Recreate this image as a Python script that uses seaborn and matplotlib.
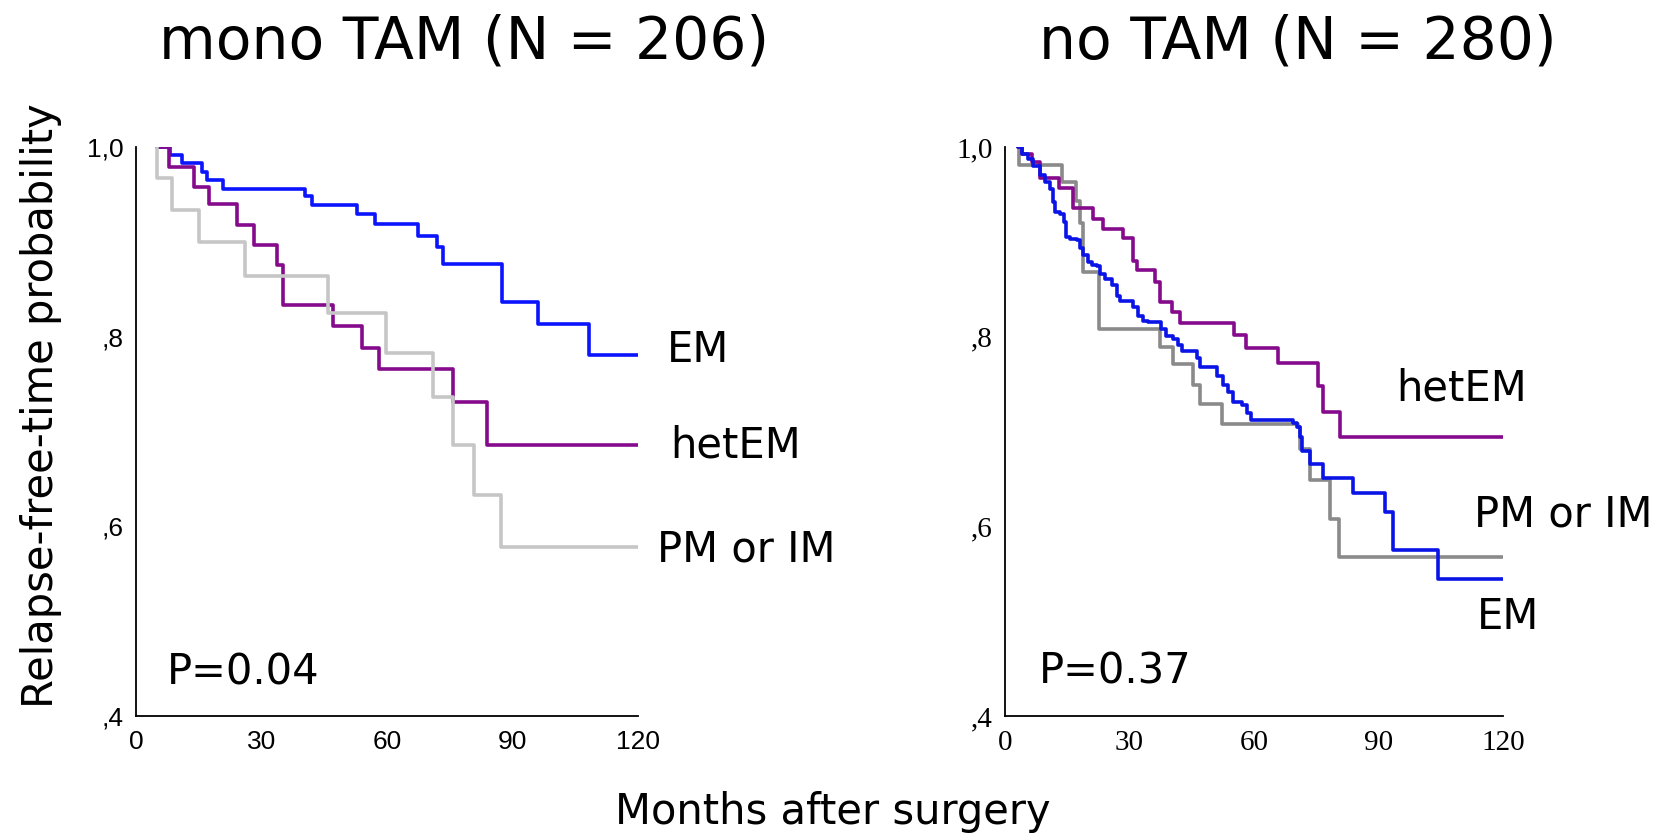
"""
plot.py

Kaplan-Meier style relapse-free curves, two panels.
"""

import matplotlib
matplotlib.use("Agg")
import matplotlib.pyplot as plt
import pandas as pd
import seaborn as sns

# left panel: mono TAM
em_l_t = [4.9, 8.1, 10.9, 15.7, 16.9, 20.9, 40.4, 42.0, 52.8, 57.2, 67.4, 71.9, 73.3, 87.5, 96.0, 108.4, 120]
em_l_s = [1.0, 0.992, 0.983, 0.974, 0.965, 0.956, 0.948, 0.939, 0.929, 0.919, 0.906, 0.895, 0.877, 0.837, 0.813, 0.781, 0.781]

het_l_t = [4.9, 8.0, 13.9, 17.5, 24.1, 28.1, 33.7, 35.2, 47.2, 54.0, 58.2, 75.7, 83.9, 120]
het_l_s = [1.0, 0.979, 0.958, 0.940, 0.918, 0.897, 0.876, 0.833, 0.811, 0.788, 0.766, 0.731, 0.686, 0.686]

pm_l_t = [4.9, 5.0, 8.7, 15.1, 26.1, 45.8, 59.7, 71.1, 75.7, 80.7, 87.3, 120]
pm_l_s = [1.0, 0.967, 0.934, 0.900, 0.864, 0.825, 0.783, 0.736, 0.686, 0.633, 0.578, 0.578]

# right panel: no TAM
het_r_t = [3.2, 4.0, 6.4, 8.4, 12.9, 16.5, 21.1, 23.5, 28.4, 30.9, 31.9, 36.1, 37.3, 40.2, 42.2,
           55.3, 58.1, 65.9, 75.5, 76.7, 80.7, 120]
het_r_s = [1.0, 0.993, 0.984, 0.967, 0.957, 0.936, 0.924, 0.914, 0.904, 0.880, 0.870, 0.858, 0.837, 0.826,
           0.814, 0.802, 0.788, 0.772, 0.748, 0.721, 0.694, 0.694]

pm_r_t = [3.2, 3.3, 13.7, 17.2, 18.0, 18.7, 22.7, 37.3, 40.4, 45.2, 47.0, 52.2, 70.5, 71.1, 73.5, 78.2, 80.6, 120]
pm_r_s = [1.0, 0.981, 0.963, 0.943, 0.920, 0.868, 0.808, 0.789, 0.771, 0.749, 0.729, 0.708, 0.705, 0.682,
          0.649, 0.608, 0.568, 0.568]

em_r_t = [3.2, 4.0, 5.6, 6.8, 8.4, 9.6, 10.8, 11.6, 12.0, 13.2, 14.1, 14.7, 15.7, 17.4, 18.1,
          18.9, 20.1, 20.9, 22.1, 22.9, 24.1, 25.7, 26.9, 27.7, 30.9, 32.1, 33.3, 34.5, 37.7, 38.9,
          40.5, 41.8, 42.6, 46.2, 47.0, 51.0, 52.6, 53.8, 55.0, 57.0, 58.2, 59.4, 69.3, 70.3, 71.1,
          71.5, 73.5, 76.7, 83.8, 91.6, 93.4, 104.4, 120]
em_r_s = [1.0, 0.993, 0.987, 0.980, 0.970, 0.963, 0.956, 0.942, 0.931, 0.929, 0.921, 0.905, 0.903, 0.902, 0.893,
          0.886, 0.879, 0.876, 0.874, 0.866, 0.861, 0.854, 0.843, 0.838, 0.831, 0.822, 0.817, 0.815, 0.808, 0.801,
          0.798, 0.791, 0.785, 0.777, 0.768, 0.759, 0.749, 0.742, 0.731, 0.728, 0.719, 0.712, 0.709, 0.705, 0.694,
          0.679, 0.666, 0.651, 0.635, 0.615, 0.575, 0.545, 0.545]

x_ticks = [0, 30, 60, 90, 120]
y_ticks = [0.4, 0.6, 0.8, 1.0]
y_tick_labels = [",4", ",6", ",8", "1,0"]


def build_frame(series):
    """
    Long table of step points for one panel.
    """
    parts = []
    for name, t, s in series:
        parts.append(pd.DataFrame({"months": t, "surv": s, "group": name}))
    return pd.concat(parts, ignore_index=True)


def km_panel(ax, df, palette, tick_font, tick_size):
    """
    Draw step curves and style the axes.
    """
    sns.lineplot(
        data=df, x="months", y="surv", hue="group", palette=palette,
        estimator=None, sort=False, drawstyle="steps-post",
        linewidth=2.6, legend=False, ax=ax
    )
    ax.set_xlim(0, 120)
    ax.set_ylim(0.4, 1.0)
    ax.set_xlabel("")
    ax.set_ylabel("")
    sns.despine(ax=ax)
    for side in ["left", "bottom"]:
        ax.spines[side].set_color("black")
        ax.spines[side].set_linewidth(1.3)
    ax.tick_params(axis="both", direction="out", length=3, width=2, color="black",
                   labelcolor="black", labelsize=tick_size, pad=6)
    ax.tick_params(axis="x", pad=7)

    ax.set_xticks(x_ticks)
    ax.set_xticklabels([str(v) for v in x_ticks])
    ax.set_yticks(y_ticks)
    ax.set_yticklabels(y_tick_labels)
    for lbl in ax.get_xticklabels() + ax.get_yticklabels():
        lbl.set_fontfamily(tick_font)
        lbl.set_fontsize(tick_size)


sns.set_style("white")
plt.rcParams["font.family"] = ["DejaVu Sans"]
plt.rcParams["text.color"] = "black"

fig = plt.figure(figsize=(16.75, 8.36), dpi=100)
ax1 = fig.add_axes([0.0812, 0.1435, 0.2997, 0.6807])
ax2 = fig.add_axes([0.6000, 0.1435, 0.2973, 0.6807])

left_df = build_frame([
    ("EM", em_l_t, em_l_s),
    ("hetEM", het_l_t, het_l_s),
    ("PM or IM", pm_l_t, pm_l_s),
])
right_df = build_frame([
    ("PM or IM", pm_r_t, pm_r_s),
    ("hetEM", het_r_t, het_r_s),
    ("EM", em_r_t, em_r_s),
])

km_panel(ax1, left_df, {"EM": "#0a14ff", "hetEM": "#860a8c", "PM or IM": "#c6c6c6"},
         "Liberation Sans", 19)
km_panel(ax2, right_df, {"EM": "#0a14e6", "hetEM": "#860a8c", "PM or IM": "#8a8a8a"},
         "Liberation Serif", 21)

lab = dict(fontsize=30, va="center", ha="left", clip_on=False, color="black")
ax1.text(126.8, 0.786, "EM", **lab)
ax1.text(127.8, 0.685, "hetEM", **lab)
ax1.text(124.6, 0.576, "PM or IM", **lab)
ax1.text(7.4, 0.446, "P=0.04", **lab)

ax2.text(94.2, 0.745, "hetEM", **lab)
ax2.text(113.0, 0.613, "PM or IM", **lab)
ax2.text(113.7, 0.504, "EM", **lab)
ax2.text(8.2, 0.447, "P=0.37", **lab)

fig.text(464 / 1675, 1 - 42 / 836, "mono TAM (N = 206)", fontsize=42, ha="center", va="center")
fig.text(1298 / 1675, 1 - 42 / 836, "no TAM (N = 280)", fontsize=42, ha="center", va="center")
fig.text(41 / 1675, 1 - 406 / 836, "Relapse-free-time probability", fontsize=30,
         rotation=90, ha="center", va="center")
fig.text(833 / 1675, 1 - 812 / 836, "Months after surgery", fontsize=30, ha="center", va="center")

fig.savefig("out.png", dpi=100)
